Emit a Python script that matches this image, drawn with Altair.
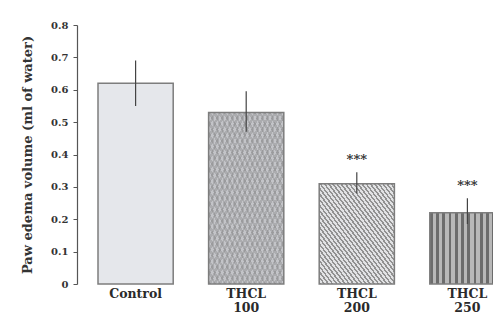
import altair as alt
import pandas as pd

groups = ["Control", "THCL 100", "THCL 200", "THCL 250"]
means = [0.62, 0.53, 0.31, 0.22]
err_low = [0.55, 0.47, 0.28, 0.185]
err_high = [0.69, 0.595, 0.345, 0.265]
stars = ["", "", "***", "***"]
y_ticks = [0, 0.1, 0.2, 0.3, 0.4, 0.5, 0.6, 0.7, 0.8]

df = pd.DataFrame({"group": groups, "mean": means, "lo": err_low,
                   "hi": err_high, "stars": stars})

FONT = "DejaVu Serif"


def stripes(c1, c2, n, frac, x1, y1, x2, y2):
    stops = []
    for i in range(n):
        a = i / n
        b = (i + frac) / n
        c = (i + 1) / n
        stops += [
            alt.GradientStop(color=c1, offset=a),
            alt.GradientStop(color=c1, offset=b),
            alt.GradientStop(color=c2, offset=b),
            alt.GradientStop(color=c2, offset=c),
        ]
    return alt.LinearGradient(gradient="linear", stops=stops,
                              x1=x1, y1=y1, x2=x2, y2=y2)


x_enc = alt.X(
    "group:N", sort=groups,
    scale=alt.Scale(domain=groups, range=[21, 428], paddingInner=0.32,
                    paddingOuter=0),
    axis=alt.Axis(title=None, labelExpr="split(datum.label, ' ')",
                  domain=False, ticks=False, labelAngle=0, labelFont=FONT,
                  labelFontWeight="bold", labelFontSize=12.5,
                  labelColor="#2a2a2a", labelPadding=3, labelLineHeight=14,
                  labelBaseline="top"),
)

y_axis = alt.Axis(
    values=y_ticks, title="Paw edema volume (ml of water)",
    labelExpr="datum.value == 0 ? '0' : format(datum.value, '.1f')",
    titleFont=FONT, titleFontSize=13, titleFontWeight="bold",
    titleColor="#333333", titlePadding=16, labelFont=FONT,
    labelFontWeight="bold", labelFontSize=10, labelColor="#333333",
    labelPadding=5, grid=False, tickSize=4, domainColor="#555555",
    tickColor="#555555", domainWidth=1.2,
)
y_scale = alt.Scale(domain=[0, 0.8], nice=False)


def yenc(field):
    return alt.Y(f"{field}:Q", scale=y_scale, axis=y_axis)


base = alt.Chart(df).encode(x=x_enc, y=yenc("mean"))

control = base.transform_filter(alt.datum.group == "Control").mark_bar(
    fill="#e5e7eb")
t100 = base.transform_filter(alt.datum.group == "THCL 100").mark_bar(
    fill="#c3c4c8")
t100_h1 = base.transform_filter(alt.datum.group == "THCL 100").mark_bar(
    fill=stripes("rgba(110,110,110,0.28)", "rgba(0,0,0,0)", 30, 0.45, 0, 0, 1, 1))
t100_h2 = base.transform_filter(alt.datum.group == "THCL 100").mark_bar(
    fill=stripes("rgba(110,110,110,0.28)", "rgba(0,0,0,0)", 30, 0.45, 0, 1, 1, 0))
t200 = base.transform_filter(alt.datum.group == "THCL 200").mark_bar(
    fill=stripes("#929292", "#e2e3e5", 36, 0.45, 0, 1, 1, 0))
t250 = base.transform_filter(alt.datum.group == "THCL 250").mark_bar(
    fill=stripes("#6c6c6c", "#b8b8b8", 12, 0.45, 0, 0, 1, 0))
outline = base.mark_bar(fill="white", fillOpacity=0, stroke="#7d7d7d",
                        strokeWidth=1.5)

errs = alt.Chart(df).mark_rule(color="#444444", strokeWidth=1.2).encode(
    x=x_enc, y=yenc("lo"), y2="hi:Q")

star_text = alt.Chart(df).mark_text(
    font=FONT, fontWeight="bold", fontSize=13, color="#333333",
    baseline="middle", dy=-12).encode(x=x_enc, y=yenc("hi"), text="stars:N")

chart = alt.layer(control, t100, t100_h1, t100_h2, t200, t250, outline,
                  errs, star_text).properties(
    width=416, height=259,
    autosize=alt.AutoSizeParams(type="none"),
    padding={"left": 69, "top": 17, "right": 0, "bottom": 30},
    background="white",
).configure_view(stroke=None)

chart.save("out.html", embed_options={"renderer": "svg", "actions": False})
